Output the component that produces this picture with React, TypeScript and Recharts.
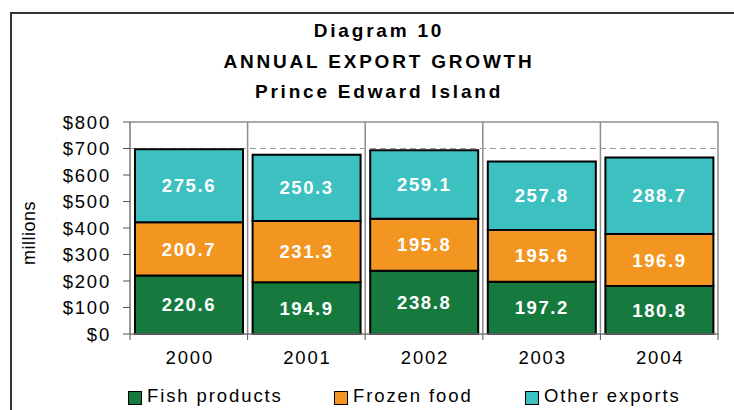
import { BarChart, Bar, XAxis, YAxis, CartesianGrid, LabelList } from "recharts";

const YEARS = ["2000", "2001", "2002", "2003", "2004"];
const FISH = [220.6, 194.9, 238.8, 197.2, 180.8];
const FROZEN = [200.7, 231.3, 195.8, 195.6, 196.9];
const OTHER = [275.6, 250.3, 259.1, 257.8, 288.7];
const Y_TICKS = [0, 100, 200, 300, 400, 500, 600, 700, 800];
const TITLE = ["Diagram 10", "ANNUAL EXPORT GROWTH", "Prince Edward Island"];

const SERIES = [
  { key: "fish", name: "Fish products", color: "#167a3e" },
  { key: "frozen", name: "Frozen food", color: "#f39621" },
  { key: "other", name: "Other exports", color: "#3dc0c0" },
];

const data = YEARS.map((year, i) => ({
  year,
  fish: FISH[i],
  frozen: FROZEN[i],
  other: OTHER[i],
}));

const FONT = "'Liberation Sans', Arial, sans-serif";
const W = 734;
const H = 410;
const HALF_BAND = 58.8;

function XTick({ x, y, payload, index }: any) {
  return (
    <g>
      <line x1={x - HALF_BAND} y1={y - 8} x2={x - HALF_BAND} y2={y - 2} stroke="#555" strokeWidth={1} />
      {index === YEARS.length - 1 && (
        <line x1={x + HALF_BAND} y1={y - 8} x2={x + HALF_BAND} y2={y - 2} stroke="#555" strokeWidth={1} />
      )}
      <text x={x + 1} y={y + 22} textAnchor="middle" fontSize={18.5} fill="#000" style={{ letterSpacing: 1.8, fontFamily: FONT }}>
        {payload.value}
      </text>
    </g>
  );
}

export default function App() {
  return (
    <div style={{ position: "absolute", left: 0, top: 0, width: W, height: H, background: "#fff", overflow: "hidden", fontFamily: FONT }}>
      <div style={{ position: "absolute", left: 10, top: 12, width: 900, height: 600, borderLeft: "2px solid #333", borderTop: "2px solid #333" }} />
      {TITLE.map((t, i) => (
        <div
          key={t}
          style={{
            position: "absolute", left: 0, width: 758, textAlign: "center",
            top: 20 + i * 30.5, fontSize: 19, fontWeight: "bold", letterSpacing: 2.8, lineHeight: "22px",
          }}
        >
          {t}
        </div>
      ))}
      <div
        style={{
          position: "absolute", left: 29, top: 233, transform: "translate(-50%, -50%) rotate(-90deg)",
          fontSize: 18, letterSpacing: 0.5, whiteSpace: "nowrap",
        }}
      >
        millions
      </div>
      <div style={{ position: "absolute", left: 0, top: 0 }}>
        <BarChart width={W} height={H} data={data} margin={{ top: 122, right: 16, bottom: 46, left: 10 }} barSize={108}>
          <CartesianGrid
            horizontalCoordinatesGenerator={({ offset }: any) => [offset.top]}
            verticalCoordinatesGenerator={({ offset }: any) =>
              YEARS.map((_, i) => offset.left + ((i + 1) * offset.width) / YEARS.length)
            }
            stroke="#8c8c8c"
            strokeWidth={1.5}
          />
          <CartesianGrid horizontalValues={[700]} vertical={false} stroke="#9a9a9a" strokeDasharray="6 4" />
          <XAxis
            dataKey="year"
            axisLine={{ stroke: "#777", strokeWidth: 1.5 }}
            tickLine={false}
            tick={<XTick />}
            height={30}
            interval={0}
          />
          <YAxis
            domain={[0, 800]}
            ticks={Y_TICKS}
            width={120}
            axisLine={{ stroke: "#777", strokeWidth: 1.5 }}
            tickLine={{ stroke: "#555" }}
            tickSize={7}
            tickMargin={12}
            tickFormatter={(v: number) => `$${v}`}
            tick={{ fontSize: 18.5, fill: "#000", style: { letterSpacing: 1.8, fontFamily: FONT } }}
            interval={0}
          />
          {SERIES.map((s) => (
            <Bar key={s.key} dataKey={s.key} name={s.name} stackId="a" fill={s.color} stroke="#000" strokeWidth={2} isAnimationActive={false}>
              <LabelList
                dataKey={s.key}
                position="center"
                fill="#fff"
                fontSize={18.5}
                fontWeight="bold"
                style={{ letterSpacing: 1.6, fontFamily: FONT }}
                formatter={(v: any) => Number(v).toFixed(1)}
              />
            </Bar>
          ))}
        </BarChart>
      </div>
      {SERIES.map((s, i) => (
        <div
          key={s.key}
          style={{
            position: "absolute", top: 385, left: [128, 334, 525][i], display: "flex", alignItems: "center",
            fontSize: 18.5, letterSpacing: 1.9, whiteSpace: "nowrap",
          }}
        >
          <span style={{ display: "inline-block", width: 12, height: 12, background: s.color, border: "1.5px solid #000", marginRight: 5, marginTop: 3 }} />
          {s.name}
        </div>
      ))}
    </div>
  );
}
